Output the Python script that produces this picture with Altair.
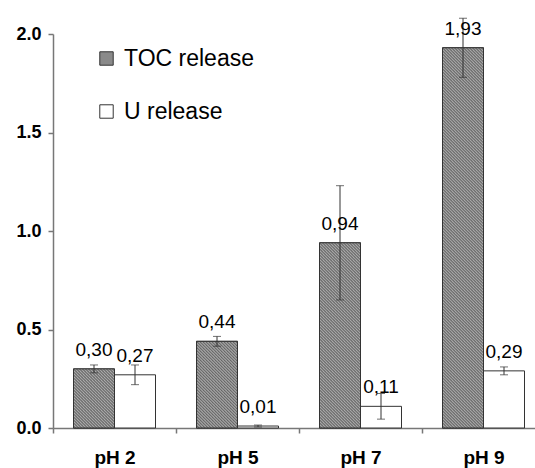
import altair as alt
import pandas as pd
from urllib.parse import quote

categories = ["pH 2", "pH 5", "pH 7", "pH 9"]
series = ["TOC release", "U release"]
toc_values = [0.30, 0.44, 0.94, 1.93]
u_values = [0.27, 0.01, 0.11, 0.29]
toc_errors = [0.02, 0.025, 0.29, 0.15]
u_errors = [0.05, 0.005, 0.065, 0.02]
y_ticks = [0.0, 0.5, 1.0, 1.5, 2.0]

rows = []
for i, c in enumerate(categories):
    for s, vals, errs in ((series[0], toc_values, toc_errors), (series[1], u_values, u_errors)):
        v = vals[i]
        e = errs[i]
        rows.append(dict(cat=c, series=s, value=v, lo=v - e, hi=v + e,
                         label=f"{v:.2f}".replace(".", ",")))
df = pd.DataFrame(rows)

FONT = "Liberation Sans"
AXC = "#777777"
DARK = "#3a3a3a"
LIGHT = "#d2d2d2"

# diagonal hatch texture (style only)
hatch_svg = (
    '<svg xmlns="http://www.w3.org/2000/svg" width="100%" height="100%">'
    '<defs><pattern id="h" width="3" height="3" patternUnits="userSpaceOnUse">'
    f'<rect width="3" height="3" fill="{LIGHT}"/>'
    f'<path d="M-1,-1 L4,4 M-1,2 L1,4 M2,-1 L4,1" stroke="{DARK}" stroke-width="1"/>'
    '</pattern></defs><rect width="100%" height="100%" fill="url(#h)"/></svg>'
)
hatch_uri = "data:image/svg+xml," + quote(hatch_svg)

x = alt.X("cat:N", sort=categories,
          scale=alt.Scale(range=[0, 492], paddingInner=0, paddingOuter=0),
          axis=alt.Axis(title=None, labelAngle=0, labelFont=FONT, labelFontSize=19,
                        labelFontWeight="bold", labelColor="black", tickBand="extent",
                        tickSize=5, labelPadding=15, domainColor=AXC, tickColor=AXC,
                        domainWidth=1.5, tickWidth=1.5))
xo = alt.XOffset("series:N", sort=series,
                 scale=alt.Scale(paddingInner=0, paddingOuter=0.5))
yscale = alt.Scale(domain=[0, 2])
y = alt.Y("value:Q", scale=yscale,
          axis=alt.Axis(title=None, values=y_ticks, format=".1f", labelFont=FONT,
                        labelFontSize=18, labelFontWeight="bold", labelColor="black",
                        tickSize=5, labelPadding=7, grid=False, domainColor=AXC,
                        tickColor=AXC, domainWidth=1.5, tickWidth=1.5))

base = alt.Chart(df)

bars = base.mark_bar(stroke="#333333", strokeWidth=1).encode(
    x=x, xOffset=xo, y=y,
    color=alt.Color("series:N", sort=series,
                    scale=alt.Scale(domain=series, range=["#8a8a8a", "#ffffff"]),
                    legend=alt.Legend(title=None, orient="none", legendX=42, legendY=13,
                                      labelFont=FONT, labelFontSize=23, labelColor="black",
                                      symbolType="square", symbolSize=180,
                                      symbolStrokeColor="#333333", symbolStrokeWidth=1,
                                      rowPadding=29, labelOffset=6, padding=0)),
)

hatch = base.transform_filter(alt.datum.series == series[0]).mark_image(aspect=False).encode(
    x=x, xOffset=xo, y=alt.Y("value:Q", scale=yscale), y2=alt.datum(0),
    url=alt.value(hatch_uri))

outline = base.transform_filter(alt.datum.series == series[0]).mark_bar(
    fillOpacity=0, stroke="#333333", strokeWidth=1).encode(
    x=x, xOffset=xo, y=alt.Y("value:Q", scale=yscale))

err_rule = base.mark_rule(color="#333333", strokeWidth=1).encode(
    x=x, xOffset=xo, y=alt.Y("lo:Q", scale=yscale), y2="hi:Q")
err_lo = base.mark_tick(color="#333333", thickness=1, size=8).encode(
    x=x, xOffset=xo, y=alt.Y("lo:Q", scale=yscale))
err_hi = base.mark_tick(color="#333333", thickness=1, size=8).encode(
    x=x, xOffset=xo, y=alt.Y("hi:Q", scale=yscale))

labels = base.mark_text(font=FONT, fontSize=19, color="black",
                        baseline="alphabetic", dy=-13).encode(
    x=x, xOffset=xo, y=alt.Y("value:Q", scale=yscale), text="label:N")

chart = alt.layer(bars, hatch, outline, err_rule, err_lo, err_hi, labels).properties(
    width=482, height=394,
    autosize=alt.AutoSizeParams(type="none"),
    padding={"left": 53, "top": 34, "right": 0, "bottom": 40},
).configure_view(stroke=None)

chart.save("out.html", embed_options={"renderer": "svg", "actions": False})
